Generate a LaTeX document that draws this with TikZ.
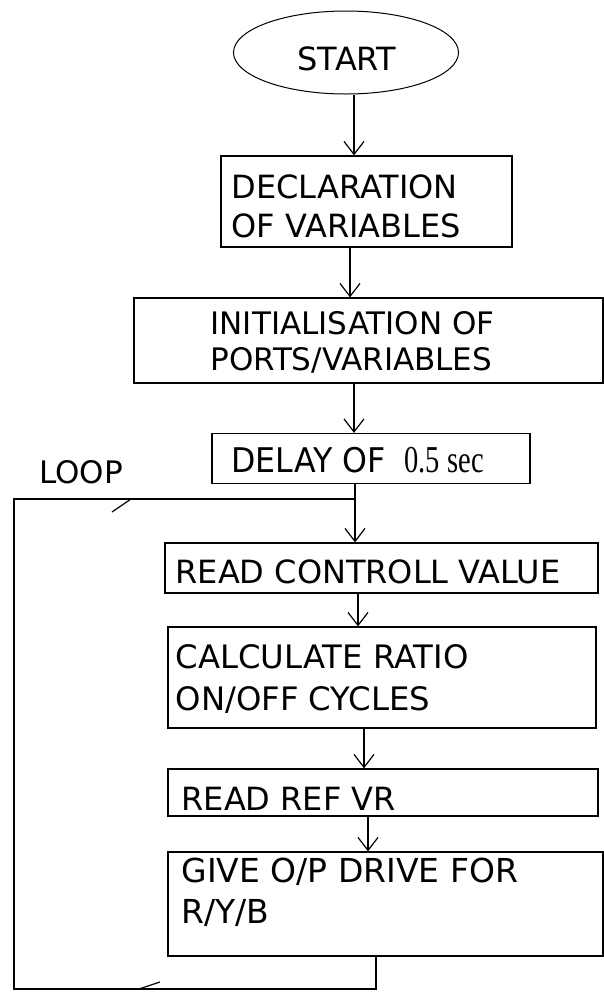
\documentclass[tikz,border=0pt]{standalone}
\usepackage{graphicx}
\usepackage{fontspec}
\setmainfont{DejaVu Sans}
\newfontfamily\numserif{Liberation Serif}
\usetikzlibrary{arrows.meta,shapes.geometric}
\begin{document}
\begin{tikzpicture}[x=1pt,y=-1pt,
  line width=1.2pt,
  boxnode/.style={draw,rectangle,inner sep=0pt},
  lbl/.style={anchor=base west,inner sep=0pt,font=\fontsize{32}{38}\selectfont},
  arr/.style={-{Straight Barb[length=13pt,width=20pt]}}]
\useasboundingbox (0,0) rectangle (604,994);
% shapes
\node[draw,ellipse,minimum width=225pt,minimum height=83pt,inner sep=0pt,line width=1pt] (start) at (346,52.5) {};
\node[boxnode,minimum width=291pt,minimum height=91pt] (decl) at (366.5,201.5) {};
\node[boxnode,minimum width=469pt,minimum height=85pt] (init) at (368.5,340.5) {};
\node[boxnode,minimum width=318pt,minimum height=50pt] (delay) at (371,458.5) {};
\node[boxnode,minimum width=433pt,minimum height=50pt] (read) at (381.5,568) {};
\node[boxnode,minimum width=428pt,minimum height=101pt] (calc) at (382,677.5) {};
\node[boxnode,minimum width=430pt,minimum height=47pt] (ref) at (383,792.5) {};
\node[boxnode,minimum width=435pt,minimum height=104pt] (give) at (385.5,904) {};
% texts
\node[lbl,anchor=base] (tstart) at (347,70) {START};
\node[lbl] (tdecl1) at (231,198) {DECLARATION};
\node[lbl] (tdecl2) at (231,237) {OF VARIABLES};
\node[lbl,font=\fontsize{31}{38}\selectfont] (tinit1) at (210,334) {INITIALISATION OF};
\node[lbl,font=\fontsize{31}{38}\selectfont] (tinit2) at (210,370) {PORTS/VARIABLES};
\node[lbl,font=\fontsize{34}{38}\selectfont] (tdelay) at (231,472) {\scalebox{0.93}[1]{DELAY OF}};
\node[anchor=base west,inner sep=0pt,font=\numserif\fontsize{38}{40}\selectfont] (tsec) at (404,472) {\scalebox{0.75}[1]{0.5 sec}};
\node[lbl,font=\fontsize{31}{38}\selectfont] (tloop) at (38.5,483) {LOOP};
\node[lbl] (tread) at (175,583) {READ CONTROLL VALUE};
\node[lbl,font=\fontsize{32.3}{38}\selectfont] (tcalc1) at (175,668) {CALCULATE RATIO};
\node[lbl,font=\fontsize{32.3}{38}\selectfont] (tcalc2) at (175,710) {ON/OFF CYCLES};
\node[lbl] (tref) at (181,810) {READ REF VR};
\node[lbl,font=\fontsize{33}{38}\selectfont] (tgive1) at (181,882) {GIVE O/P DRIVE FOR};
\node[lbl,font=\fontsize{33}{38}\selectfont] (tgive2) at (181,923) {R/Y/B};
% connectors
\draw[arr] ([xshift=8pt]start.south) -- ([xshift=-12.5pt]decl.north);
\draw[arr] ([xshift=-16.5pt]decl.south) -- ([xshift=-18.5pt]init.north);
\draw[arr] ([xshift=-14.5pt]init.south) -- ([xshift=-17pt]delay.north);
\draw[arr] ([xshift=-16pt]delay.south) -- ([xshift=-26.5pt]read.north);
\draw[arr] ([xshift=-23.5pt]read.south) -- ([xshift=-24pt]calc.north);
\draw[arr] ([xshift=-18pt]calc.south) -- ([xshift=-19pt]ref.north);
\draw[arr] ([xshift=-15pt]ref.south) -- ([xshift=-17.5pt]give.north);
% loop back
\coordinate (bl) at (14,989);
\coordinate (tl) at (14,499);
\coordinate (join) at (355,499);
\coordinate (m1) at (131,499);
\coordinate (m2) at (139,989);
\draw ([xshift=-9.5pt]give.south) |- (bl) -- (tl) -- (join);
\draw (m1) -- ++(-19,13);
\draw (m2) -- ++(21,-7);
\end{tikzpicture}
\end{document}
